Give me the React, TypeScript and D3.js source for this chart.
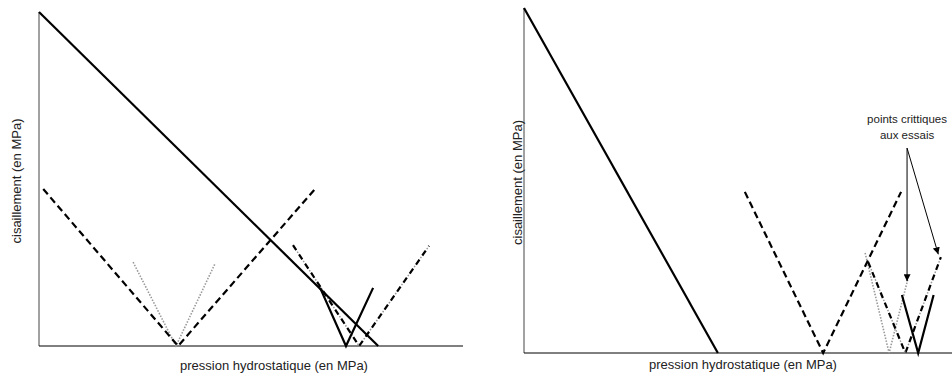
import { scaleLinear, line } from 'd3'

type Pt = [number, number]

// pressure / shear in arbitrary units (0..100)
const leftEnvelope: Pt[] = [[0, 100], [80, 0]]
const leftDashed: Pt[] = [[1, 47], [32.8, 0], [65.1, 47]]
const leftDotted: Pt[] = [[22.2, 25.1], [32.3, 0], [41.5, 24.6]]
const leftSolidV: Pt[] = [[66.3, 17.4], [72.4, 0], [78.8, 17.4]]
const leftDashDot: Pt[] = [[59.9, 30.2], [75.5, 0], [92, 30]]

const rightEnvelope: Pt[] = [[0, 100], [45.3, 0]]
const rightDashed: Pt[] = [[51.6, 46.7], [69.9, 0], [88.1, 46.7]]
const rightDotted: Pt[] = [[79.7, 29], [85.3, 0], [89.7, 21.5]]
const rightDashDot: Pt[] = [[80.4, 26.4], [89.1, 0], [97.4, 27.8]]
const rightSolidV: Pt[] = [[88.3, 16.8], [92.1, 0], [95.7, 16.8]]

const arrowFrom: Pt = [89.5, 59.4]
const arrowTargets: Pt[] = [[89.5, 20.8], [96.8, 28.6]]
const noteLines = ['points crittiques', 'aux essais']

const xLabel = 'pression hydrostatique (en MPa)'
const yLabel = 'cisaillement (en MPa)'

const font = '"Liberation Sans", Arial, Helvetica, sans-serif'

type PanelProps = {
  x0: number
  x1: number
  y0: number
  y1: number
  yLabelX: number
  xLabelX: number
  xLabelY: number
  envelope: Pt[]
  dashed: Pt[]
  dotted: Pt[]
  dashDot: Pt[]
  solidV: Pt[]
  children?: (x: any, y: any) => any
}

function Panel(props: PanelProps) {
  const { x0, x1, y0, y1 } = props
  const x = scaleLinear().domain([0, 100]).range([x0, x1])
  const y = scaleLinear().domain([0, 100]).range([y0, y1])
  const gen = line<Pt>()
    .x((d) => x(d[0]))
    .y((d) => y(d[1]))

  return (
    <g>
      {/* axes */}
      <line x1={x0} x2={x0} y1={y0} y2={y1} stroke="#444" strokeWidth={1} />
      <line x1={x0} x2={x1} y1={y0} y2={y0} stroke="#000" strokeWidth={1} />

      {/* dotted gray */}
      <path d={gen(props.dotted) || ''} fill="none" stroke="#999" strokeWidth={1.6} strokeDasharray="1.5,1.5" />

      {/* dashed */}
      <path d={gen(props.dashed) || ''} fill="none" stroke="#000" strokeWidth={2.2} strokeDasharray="7,4" />

      {/* dash-dot: black dashes with gray dots between */}
      <path d={gen(props.dashDot) || ''} fill="none" stroke="#000" strokeWidth={2.2} strokeDasharray="6,5" />
      <path
        d={gen(props.dashDot) || ''}
        fill="none"
        stroke="#999"
        strokeWidth={1.5}
        strokeDasharray="1.5,9.5"
        strokeDashoffset={-7.8}
      />

      {/* solid */}
      <path d={gen(props.envelope) || ''} fill="none" stroke="#000" strokeWidth={2.2} />
      <path d={gen(props.solidV) || ''} fill="none" stroke="#000" strokeWidth={2.2} strokeLinejoin="miter" />

      <text
        transform={`translate(${props.yLabelX},${(y0 + y1) / 2 + 2}) rotate(-90)`}
        textAnchor="middle"
        fontFamily={font}
        fontSize={13}
        fill="#222"
      >
        {yLabel}
      </text>
      <text
        x={props.xLabelX}
        y={props.xLabelY}
        textAnchor="middle"
        fontFamily={font}
        fontSize={13}
        fill="#222"
      >
        {xLabel}
      </text>
      {props.children ? props.children(x, y) : null}
    </g>
  )
}

export default function App() {
  return (
    <svg
      width={952}
      height={376}
      style={{ position: 'absolute', left: 0, top: 0, background: '#fff' }}
    >
      <defs>
        <marker
          id="arrow"
          viewBox="0 0 10 10"
          refX={10}
          refY={5}
          markerWidth={7}
          markerHeight={7}
          markerUnits="userSpaceOnUse"
          orient="auto"
        >
          <path d="M0,0 L10,5 L0,10 z" fill="#000" />
        </marker>
      </defs>
      <Panel
        x0={39}
        x1={463}
        y0={346}
        y1={12}
        yLabelX={21}
        xLabelX={274}
        xLabelY={370}
        envelope={leftEnvelope}
        dashed={leftDashed}
        dotted={leftDotted}
        dashDot={leftDashDot}
        solidV={leftSolidV}
      />
      <Panel
        x0={524}
        x1={952}
        y0={353}
        y1={8}
        yLabelX={522}
        xLabelX={743}
        xLabelY={369}
        envelope={rightEnvelope}
        dashed={rightDashed}
        dotted={rightDotted}
        dashDot={rightDashDot}
        solidV={rightSolidV}
      >
        {(x: any, y: any) => (
          <g>
            {arrowTargets.map((t, i) => (
              <line
                key={i}
                x1={x(arrowFrom[0])}
                y1={y(arrowFrom[1])}
                x2={x(t[0])}
                y2={y(t[1])}
                stroke="#000"
                strokeWidth={1}
                markerEnd="url(#arrow)"
              />
            ))}
            {noteLines.map((s, i) => (
              <text
                key={s}
                x={x(arrowFrom[0])}
                y={y(arrowFrom[1]) - 25 + i * 16}
                textAnchor="middle"
                fontFamily={font}
                fontSize={11.5}
                fill="#222"
              >
                {s}
              </text>
            ))}
          </g>
        )}
      </Panel>
    </svg>
  )
}
